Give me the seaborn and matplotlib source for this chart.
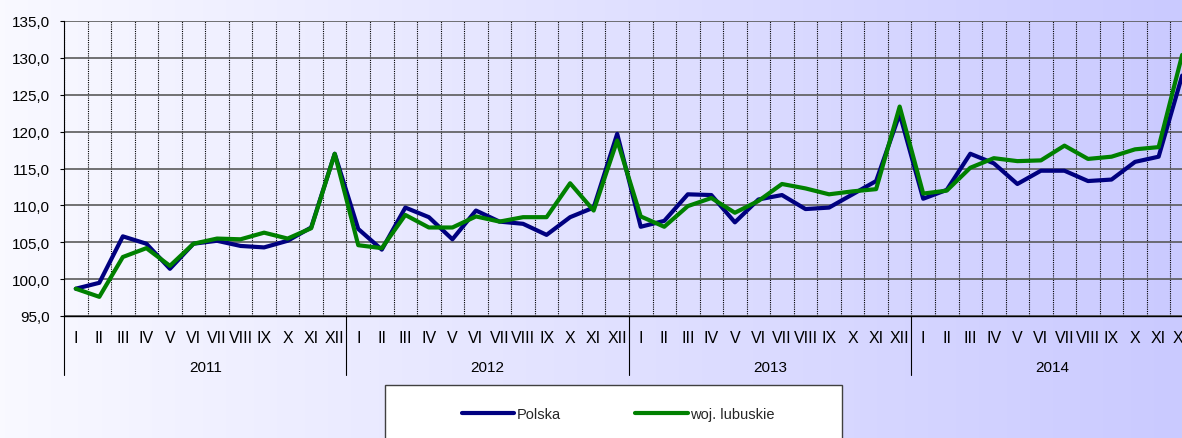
import numpy as np
import pandas as pd
import matplotlib
matplotlib.use("Agg")
import matplotlib.pyplot as plt
import matplotlib.transforms as mtransforms
from matplotlib.patches import Rectangle
import seaborn as sns

# data (index, same month previous year = 100)
years = ["2011", "2012", "2013", "2014"]
months = ["I", "II", "III", "IV", "V", "VI", "VII", "VIII", "IX", "X", "XI", "XII"]
polska = [98.7, 99.5, 105.8, 104.8, 101.4, 104.8, 105.2, 104.5, 104.3, 105.2, 107.0, 117.0,
          106.8, 104.0, 109.7, 108.4, 105.4, 109.3, 107.8, 107.5, 106.0, 108.4, 109.7, 119.7,
          107.1, 107.9, 111.5, 111.4, 107.7, 110.8, 111.4, 109.5, 109.7, 111.5, 113.3, 122.4,
          110.9, 112.1, 117.0, 115.7, 112.9, 114.7, 114.7, 113.3, 113.5, 115.9, 116.6, 127.6]
lubuskie = [98.7, 97.6, 103.0, 104.2, 101.8, 104.8, 105.5, 105.4, 106.3, 105.5, 106.9, 117.0,
            104.6, 104.2, 108.7, 107.0, 107.0, 108.5, 107.8, 108.4, 108.4, 113.0, 109.3, 118.8,
            108.5, 107.1, 109.9, 111.0, 109.0, 110.6, 112.9, 112.3, 111.5, 111.9, 112.2, 123.4,
            111.6, 112.0, 115.1, 116.4, 116.0, 116.1, 118.1, 116.3, 116.6, 117.6, 117.9, 130.4]
series_names = ["Polska", "woj. lubuskie"]
series_colors = ["#000080", "#008000"]

n = len(polska)
df = pd.DataFrame({
    "idx": list(range(n)) * 2,
    "value": polska + lubuskie,
    "series": [series_names[0]] * n + [series_names[1]] * n,
})

sns.set_style("white")
plt.rcParams["font.family"] = ["Liberation Sans", "DejaVu Sans"]

W, H = 1182, 439
fig = plt.figure(figsize=(W / 100, H / 100), dpi=100)

# gradient background behind everything
bg = fig.add_axes([0, 0, 1, 1], zorder=-10)
t = np.linspace(0, 1, 256)
left_c = np.array([249, 249, 255]) / 255
right_c = np.array([202, 202, 255]) / 255
grad = (left_c[None, :] * (1 - t[:, None]) + right_c[None, :] * t[:, None])[None, :, :]
bg.imshow(grad, aspect="auto", extent=[0, 1, 0, 1])
bg.axis("off")

# plot area (right part is clipped by the figure edge like the original)
x0, x1, y_top, y_bot = 64, 64 + 48 * 23.54, 22, 317
ax = fig.add_axes([x0 / W, 1 - y_bot / H, (x1 - x0) / W, (y_bot - y_top) / H])
ax.set_facecolor("none")

sns.lineplot(data=df, x="idx", y="value", hue="series", palette=series_colors,
             linewidth=3.0, ax=ax, legend=True)
for line in ax.get_lines():
    line.set_solid_joinstyle("round")
    line.set_zorder(3)

ax.set_xlim(-0.5, n - 0.5)
ax.set_ylim(95, 135)
ax.set_yticks(np.arange(95, 136, 5))
ax.set_yticklabels([f"{v:.1f}".replace(".", ",") for v in np.arange(95, 136, 5)])
ax.set_xticks(range(n))
ax.set_xticklabels(months * len(years))
ax.set_xticks(np.arange(-0.5, n, 1), minor=True)
ax.set_xlabel("")
ax.set_ylabel("")

ax.grid(False)
ax.grid(which="major", axis="y", color="#5a5a5a", linewidth=1.2, zorder=1)
ax.grid(which="minor", axis="x", color="black", linestyle=(0, (1, 1)), linewidth=0.8, zorder=1)
ax.set_axisbelow(True)

ax.tick_params(axis="x", which="major", length=0, pad=10, labelsize=11.5, colors="black")
ax.tick_params(axis="x", which="minor", length=21.6, width=0.8, color="black", direction="out")
ax.tick_params(axis="y", which="major", left=True, length=3, width=0.8, color="black",
               pad=7, labelsize=11, labelcolor="black")

for s in ["top", "right"]:
    ax.spines[s].set_visible(False)
ax.spines["left"].set_color("black")
ax.spines["left"].set_linewidth(0.8)
ax.spines["bottom"].set_color("black")
ax.spines["bottom"].set_linewidth(1.0)

# year separators and labels
trans = mtransforms.blended_transform_factory(ax.transData, ax.transAxes)
for k in range(len(years)):
    b = k * 12 - 0.5
    ax.plot([b, b], [0, -0.2], transform=trans, clip_on=False, color="black", lw=0.8)
    ax.text(k * 12 + 5.5, -0.172, years[k], transform=trans, ha="center", va="center",
            fontsize=11, color="black")

# legend box
handles, labels = ax.get_legend_handles_labels()
ax.get_legend().remove()
fig.add_artist(Rectangle((385 / W, -0.1), (842 - 385) / W, (1 - 386 / H) + 0.1,
                         transform=fig.transFigure, facecolor="white",
                         edgecolor="#404040", linewidth=1.0, zorder=5))
leg = fig.legend(handles, labels, loc="center", bbox_to_anchor=(618 / W, 1 - 415 / H),
                 ncol=2, frameon=False, handlelength=3.6, handletextpad=0.15,
                 columnspacing=5.1, fontsize=10.5)
leg.set_zorder(6)

fig.savefig("out.png", dpi=100)
